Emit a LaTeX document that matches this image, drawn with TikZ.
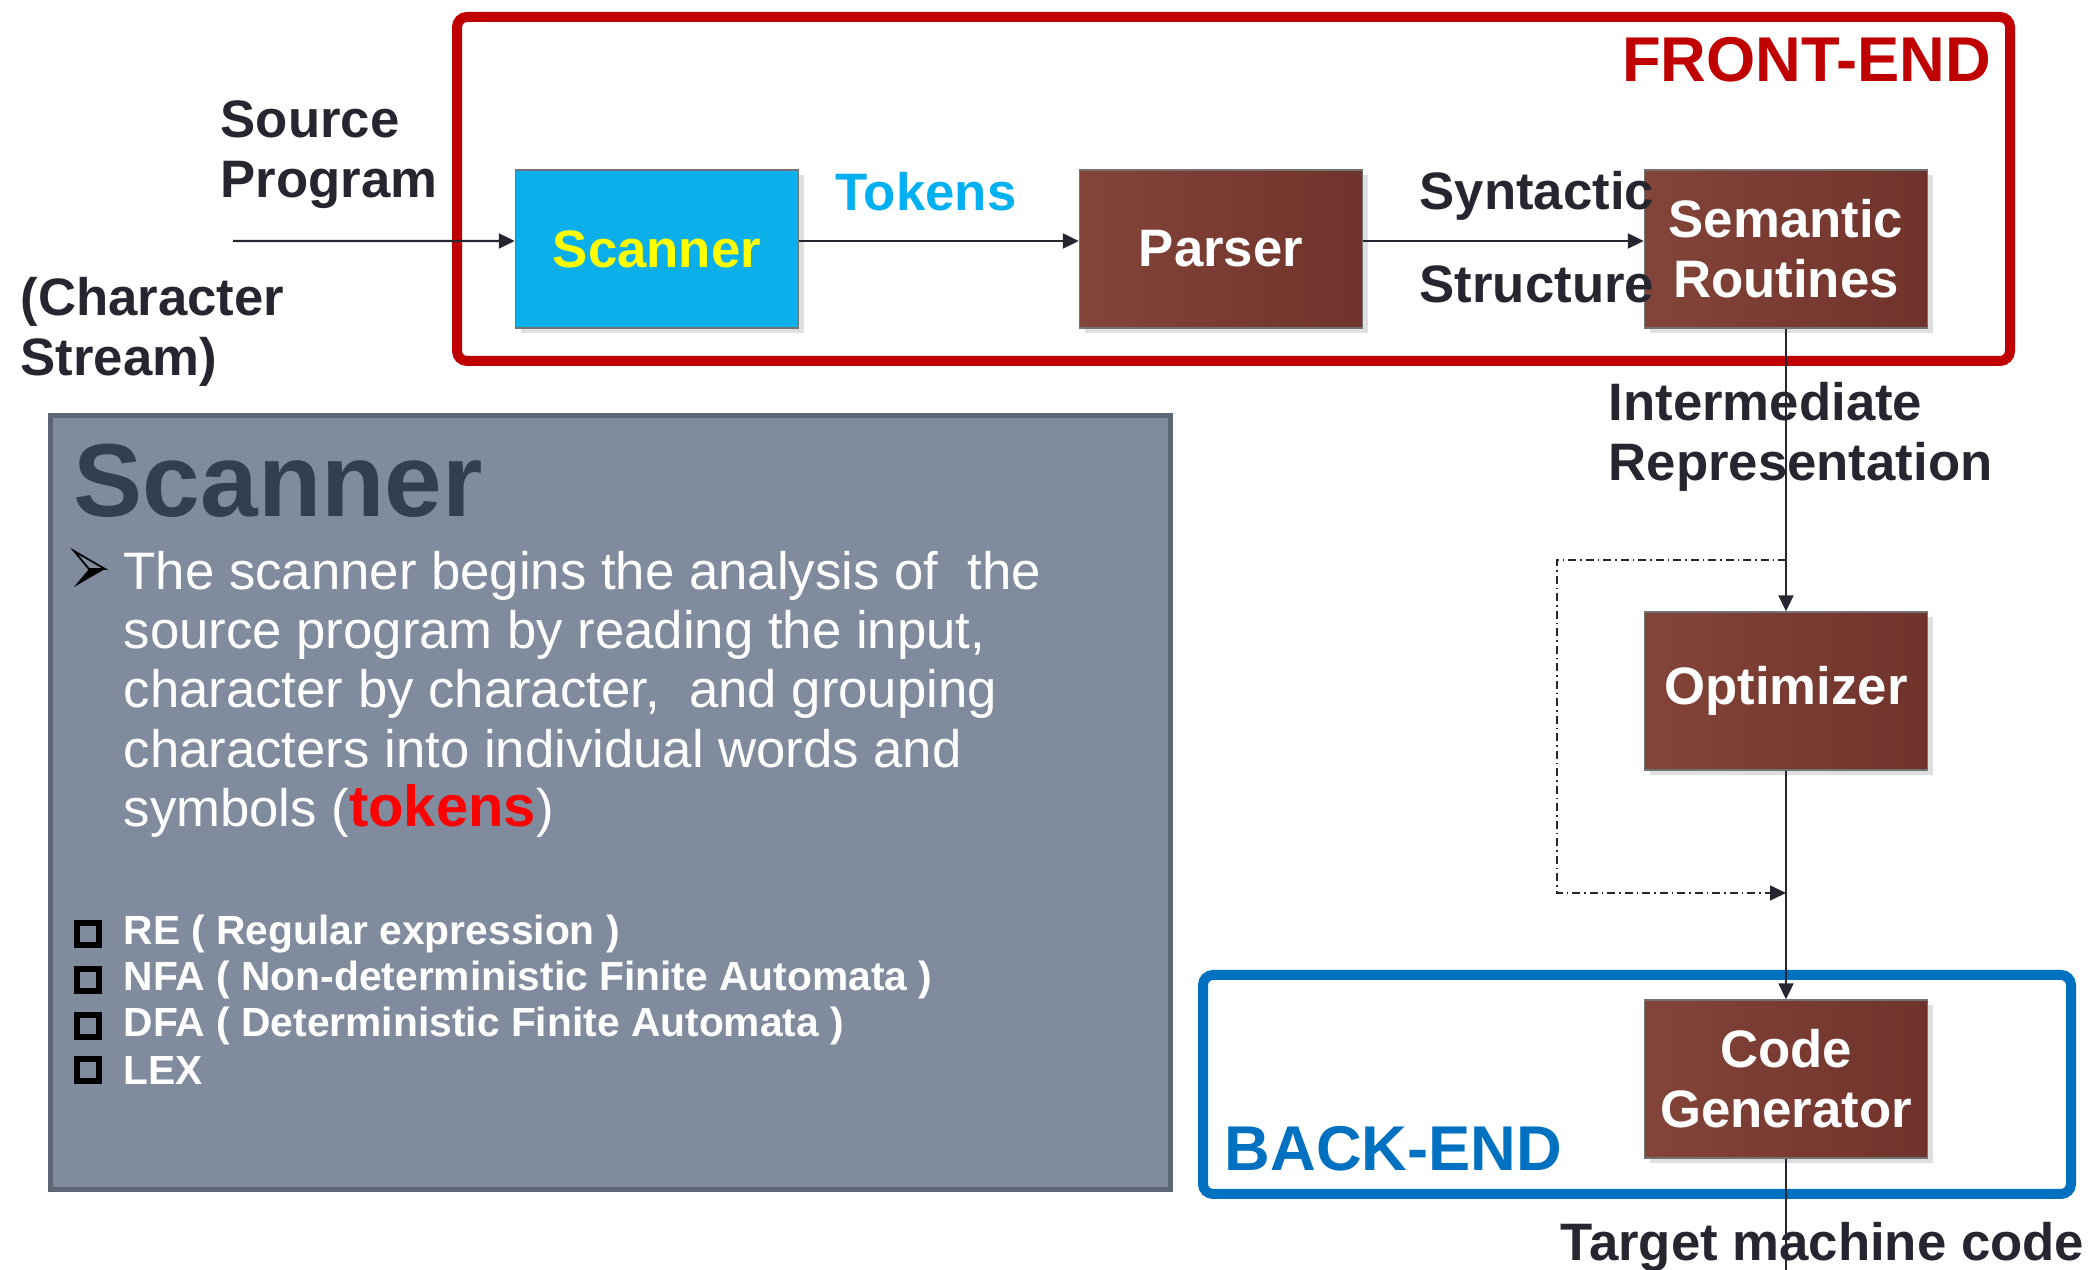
\documentclass[tikz,border=0pt]{standalone}
\usepackage{fontspec}
\setmainfont{Liberation Sans}
\usetikzlibrary{arrows.meta,shadows}

\definecolor{frontred}{RGB}{192,0,0}
\definecolor{backblue}{RGB}{0,112,192}
\definecolor{inkdark}{RGB}{38,38,48}
\definecolor{tokcyan}{RGB}{0,176,240}
\definecolor{scanfill}{RGB}{11,176,234}
\definecolor{brownlt}{RGB}{131,68,57}
\definecolor{browndk}{RGB}{112,51,43}
\definecolor{panelgray}{RGB}{128,140,158}
\definecolor{paneledge}{RGB}{93,102,117}
\definecolor{titleink}{RGB}{51,63,79}
\definecolor{tokred}{RGB}{255,0,0}

\tikzset{
  phase/.style={draw=black!55, line width=0.4pt, minimum width=28.3mm, minimum height=15.8mm,
    align=center, text=white, font=\fontsize{15}{17}\selectfont\bfseries,
    left color=brownlt, right color=browndk,
    drop shadow={opacity=0.25, shadow xshift=0.5mm, shadow yshift=-0.5mm}},
  flow/.style={draw=inkdark, line width=0.6pt, -{Triangle[length=1.6mm,width=1.5mm]}},
  lbl/.style={text=inkdark, font=\fontsize{15}{17}\selectfont\bfseries, align=left, inner sep=0pt},
}

\begin{document}
\begin{tikzpicture}[x=0.1mm, y=-0.1mm]
    \useasboundingbox (0,0) rectangle (2090,1270);

    % 定义连线端点
    \coordinate (src) at (233,241);
    \coordinate (irsplit) at (1786,560);
    \coordinate (loopTL) at (1557,560);
    \coordinate (loopBL) at (1557,893);
    \coordinate (rejoin) at (1786,893);
    \coordinate (target) at (1786,1270);

    % === 前端与后端的外框 ===
    \draw[frontred, line width=1mm, rounded corners=1mm] (457,17) rectangle (2010,361);
    \draw[backblue, line width=1mm, rounded corners=1mm] (1203,975) rectangle (2071,1194);
    \node[anchor=east, inner sep=0pt, text=frontred, font=\fontsize{18}{20}\selectfont\bfseries] (frontlbl) at (1992,60) {FRONT-END};
    \node[anchor=west, inner sep=0pt, text=backblue, font=\fontsize{18}{20}\selectfont\bfseries] (backlbl) at (1224,1149) {BACK-END};

    % === 各个阶段 ===
    \node[phase, left color=scanfill, right color=scanfill, text={rgb,255:red,255;green,255;blue,0}] (scanner) at (657,249) {Scanner};
    \node[phase] (parser) at (1221,249) {Parser};
    \node[phase] (semantic) at (1786,249) {Semantic\\Routines};
    \node[phase] (optimizer) at (1786,691) {Optimizer};
    \node[phase] (codegen) at (1786,1079) {Code\\Generator};

    % 标注连线上的文字
    \node[lbl, anchor=west] (srclbl) at (220,155) {Source\\Program};
    \node[lbl, anchor=west] (charlbl) at (20,332) {(Character\\Stream)};
    \node[lbl, text=tokcyan] (toklbl) at (926,192) {Tokens};
    \node[lbl, anchor=west] (synlbl) at (1419,196) {Syntactic};
    \node[lbl, anchor=west] (strlbl) at (1419,284) {Structure};
    \node[lbl, anchor=west] (irlbl) at (1608,437) {Intermediate\\Representation};
    \node[lbl, anchor=west] (tgtlbl) at (1560,1247) {Target machine code};

    % === 连线（略高于方框中线） ===
    \draw[flow] (src) -- ([yshift=0.8mm]scanner.west);
    \draw[flow] ([yshift=0.8mm]scanner.east) -- ([yshift=0.8mm]parser.west);
    \draw[flow] ([yshift=0.8mm]parser.east) -- ([yshift=0.8mm]semantic.west);
    \draw[flow] (semantic) -- (optimizer);
    \draw[flow] (optimizer) -- (codegen);
    \draw[draw=inkdark, line width=0.6pt] (codegen) -- (target);
    % 绕过优化器的点划线
    \draw[flow, line width=0.45pt, dash pattern=on 0.8mm off 0.4mm on 0.15mm off 0.4mm] (irsplit) -- (loopTL) -- (loopBL) -- (rejoin);

    % === 左下方的说明框 ===
    \draw[fill=panelgray, draw=paneledge, line width=0.5mm] (50,416) rectangle (1170,1190);
    \node[anchor=west, inner sep=0pt, text=titleink, font=\fontsize{29.5}{32}\selectfont\bfseries] (paneltitle) at (73,481) {Scanner};
    % 箭头形项目符号：上半空心，下半实心
    \draw[black, line width=0.5pt, line join=miter] (74,551) -- (105,569) -- (89,569) -- cycle;
    \fill[black] (89,569) -- (105,569) -- (74,587) -- cycle;
    \node[anchor=north west, inner sep=0pt, align=left, text=white, font=\fontsize{15}{16.8}\selectfont] (paneltext) at (123,551)
      {The scanner begins the analysis of\ \ the\\
       source program by reading the input,\\
       character by character,\ \ and grouping\\
       characters into individual words and\\
       symbols (\textcolor{tokred}{\fontsize{16.5}{18}\selectfont\bfseries tokens})};

    % 列表项
    \foreach \y/\txt [count=\i] in {934/RE ( Regular expression ),
                                    980/NFA ( Non-deterministic Finite Automata ),
                                    1026/DFA ( Deterministic Finite Automata ),
                                    1070/LEX}
    {
        \node[draw=black, line width=1.7pt, minimum size=2.2mm, inner sep=0pt] (box\i) at (88,\y) {};
        \node[anchor=west, inner sep=0pt, text=white, font=\fontsize{11.6}{13}\selectfont\bfseries] (item\i) at (123,\y) {\txt};
    }
\end{tikzpicture}
\end{document}
